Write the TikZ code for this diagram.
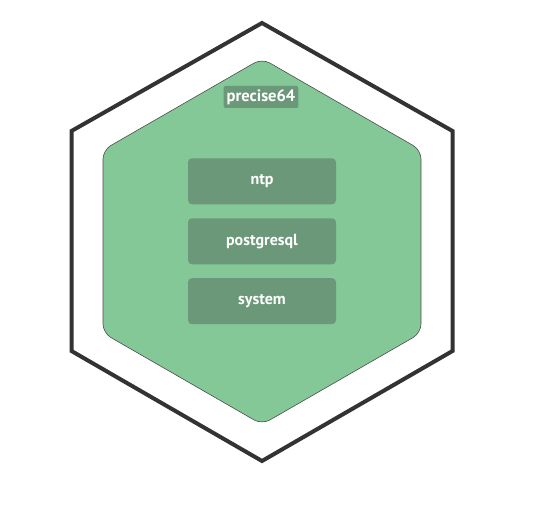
\documentclass[tikz,border=0pt]{standalone}
\usepackage{fontspec}
\setmainfont{PT Sans}
\definecolor{hostgreen}{RGB}{132,200,152}
\definecolor{boxgreen}{RGB}{106,152,120}
\definecolor{rimgrey}{RGB}{51,51,51}
\tikzset{
  modbox/.style={fill=boxgreen, rounded corners=4pt, minimum width=148pt, minimum height=46pt, text=white, font=\bfseries\fontsize{16}{18}\selectfont},
  hostlabel/.style={fill=boxgreen, rounded corners=2pt, inner xsep=3pt, minimum height=22pt, text=white, font=\bfseries\fontsize{16.5}{18}\selectfont}
}
\begin{document}
\begin{tikzpicture}[x=1pt,y=-1pt]
    \useasboundingbox (0,0) rectangle (535,508);
    \draw[rimgrey, line width=4pt] (262,23) -- (452.5,131) -- (452.5,351) -- (262,461) -- (71.5,351) -- (71.5,131) -- cycle;
    \draw[fill=hostgreen, draw=black!70, line width=0.6pt, rounded corners=9pt] (262,58.5) -- (421,150) -- (421,333) -- (262,424.5) -- (103,333) -- (103,150) -- cycle;
    \node[hostlabel] (host) at (261,97) {precise64};
    \node[modbox] (ntp) at (262,181.3) {ntp};
    \node[modbox] (pg) at (262,241.3) {postgresql};
    \node[modbox] (sys) at (262,301.2) {system};
\end{tikzpicture}
\end{document}
